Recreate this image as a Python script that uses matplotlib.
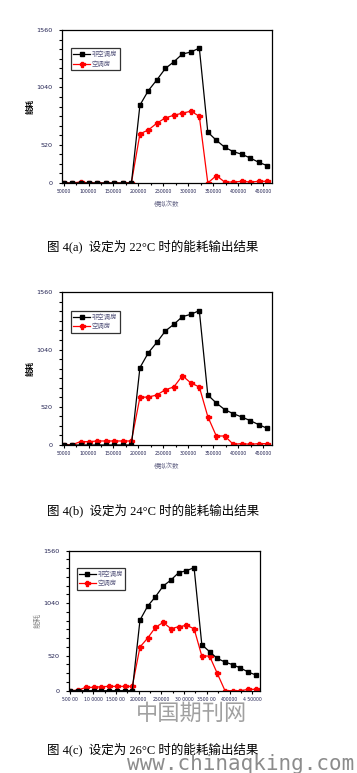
import numpy as np
import matplotlib
matplotlib.use("Agg")
import matplotlib.pyplot as plt
from matplotlib.ticker import FixedLocator, MultipleLocator

plt.rcParams['font.family'] = ['DejaVu Sans', 'Noto Sans CJK SC']

# ---- data ----
x_steps = [50000 + 17000 * k for k in range(25)]

black_a = [0, 0, 0, 0, 0, 0, 0, 0, 0, 794, 943, 1052, 1168, 1236, 1315, 1335, 1376,
           518, 436, 364, 320, 293, 255, 211, 177]
red_a = [0, 0, 10, 0, 0, 0, 0, 0, 3, 501, 541, 610, 664, 691, 712, 732, 681,
         0, 75, 10, 10, 17, 10, 17, 17]

black_b = [0, 0, 0, 0, 0, 0, 0, 0, 0, 790, 943, 1049, 1165, 1233, 1311, 1335, 1373,
           511, 429, 361, 320, 286, 249, 208, 170]
red_b = [0, 3, 34, 34, 41, 41, 41, 41, 41, 487, 490, 511, 565, 593, 708, 634, 593,
         290, 92, 92, 7, 14, 7, 14, 14]

black_c = [0, 0, 0, 0, 0, 0, 0, 0, 0, 787, 943, 1047, 1166, 1233, 1315, 1337, 1371,
           513, 435, 360, 319, 290, 253, 208, 175]
red_c = [0, 7, 37, 37, 45, 48, 48, 48, 48, 487, 587, 706, 761, 691, 713, 728, 691,
         386, 386, 193, 0, 0, 0, 15, 15]

legend_labels = ['非空调房', '空调房']
y_tick_pos = [0, 390, 975, 1560]
y_tick_lab = ['0', '520', '1040', '1560']
x_tick_pos = [50000, 100000, 150000, 200000, 250000, 300000, 350000, 400000, 450000]
x_tick_lab = ['50000', '100000', '150000', '200000', '250000', '300000', '350000', '400000', '450000']
x_tick_lab_c = ['500 00', '10 0000', '1500 00', '200000', '250000', '30 0000', '3500 00', '400000', '4 50000']
captions = ['图 4(a)  设定为 22°C 时的能耗输出结果',
            '图 4(b)  设定为 24°C 时的能耗输出结果',
            '图 4(c)  设定为 26°C 时的能耗输出结果']

W, H = 357, 773
fig = plt.figure(figsize=(W / 100, H / 100), dpi=100)
fig.patch.set_facecolor('white')

def px_axes(l, t, r, b):
    return fig.add_axes([l / W, 1 - b / H, (r - l) / W, (b - t) / H])

tick_col = '#202050'
cjk = ['Noto Sans CJK SC', 'DejaVu Sans']

def draw(ax, blk, red, xlabs, leg_anchor, ylab_col, ylab_bold, xlab=True):
    ax.plot(x_steps, red, color='#ff0000', lw=0.9, marker='P', ms=3.6,
            mec='#ff0000', mfc='#ff0000', label=legend_labels[1], zorder=2)
    ax.plot(x_steps, blk, color='black', lw=0.9, marker='s', ms=2.8,
            mec='black', mfc='black', label=legend_labels[0], zorder=3)
    ax.set_xlim(47500, 467000)
    ax.set_ylim(0, 1560)
    ax.yaxis.set_major_locator(FixedLocator(y_tick_pos))
    ax.set_yticklabels(y_tick_lab)
    ax.yaxis.set_minor_locator(MultipleLocator(97.5))
    ax.xaxis.set_major_locator(FixedLocator(x_tick_pos))
    ax.set_xticklabels(xlabs)
    ax.xaxis.set_minor_locator(MultipleLocator(25000))
    ax.tick_params(axis='y', which='major', direction='out', length=2.5, width=0.8,
                   labelsize=4.6, colors='black', labelcolor=tick_col, pad=4.5)
    ax.tick_params(axis='y', which='minor', direction='out', length=2.0, width=0.8)
    ax.tick_params(axis='x', which='major', direction='out', length=2.0, width=0.8,
                   labelsize=3.3, labelcolor=tick_col, pad=2.5)
    ax.tick_params(axis='x', which='minor', direction='out', length=1.5, width=0.8)
    for s in ax.spines.values():
        s.set_linewidth(0.9)
        s.set_color('black')
    h, l = ax.get_legend_handles_labels()
    leg = ax.legend(h[::-1], l[::-1], loc='upper left', bbox_to_anchor=leg_anchor,
                    borderaxespad=0, frameon=True, fancybox=False,
                    prop={'family': cjk, 'size': 4.6}, handlelength=2.6,
                    handletextpad=0.3, borderpad=0.35, labelspacing=0.25,
                    labelcolor='#5a5a80')
    leg.get_frame().set_edgecolor('black')
    leg.get_frame().set_linewidth(0.9)
    ax.set_ylabel('能耗', family=cjk, fontsize=5.5, color=ylab_col,
                  fontweight='bold' if ylab_bold else 'normal', labelpad=1.5)
    if xlab:
        ax.set_xlabel('模拟次数', family=cjk, fontsize=4.6, color='#6a6a8a', labelpad=4)

ax1 = px_axes(62.3, 30, 271.7, 183)
draw(ax1, black_a, red_a, x_tick_lab, (0.042, 0.882), 'black', True)
ax2 = px_axes(62.3, 292.3, 271.7, 445)
draw(ax2, black_b, red_b, x_tick_lab, (0.042, 0.88), 'black', True)
ax3 = px_axes(69.3, 550.7, 260, 690.7)
draw(ax3, black_c, red_c, x_tick_lab_c, (0.04, 0.88), '#888888', False, xlab=False)

cap_font = ['Liberation Serif', 'Noto Sans CJK SC']
for cap, yc in zip(captions, [246.5, 510.5, 749]):
    fig.text(47 / W, 1 - yc / H, cap, family=cap_font, fontsize=9,
             ha='left', va='center', color='black')

# watermark
fig.text(191 / W, 1 - 713 / H, '中国期刊网', family=['Noto Sans CJK SC'], fontsize=16,
         fontweight='light', color='#a0a0a0', ha='center', va='center')
fig.text(241 / W, 1 - 764 / H, 'www.chinaqking.com', family=['DejaVu Sans Mono'],
         fontsize=15, color='#8c8c8c', ha='center', va='center')

fig.savefig('out.png', dpi=100, facecolor='white')
